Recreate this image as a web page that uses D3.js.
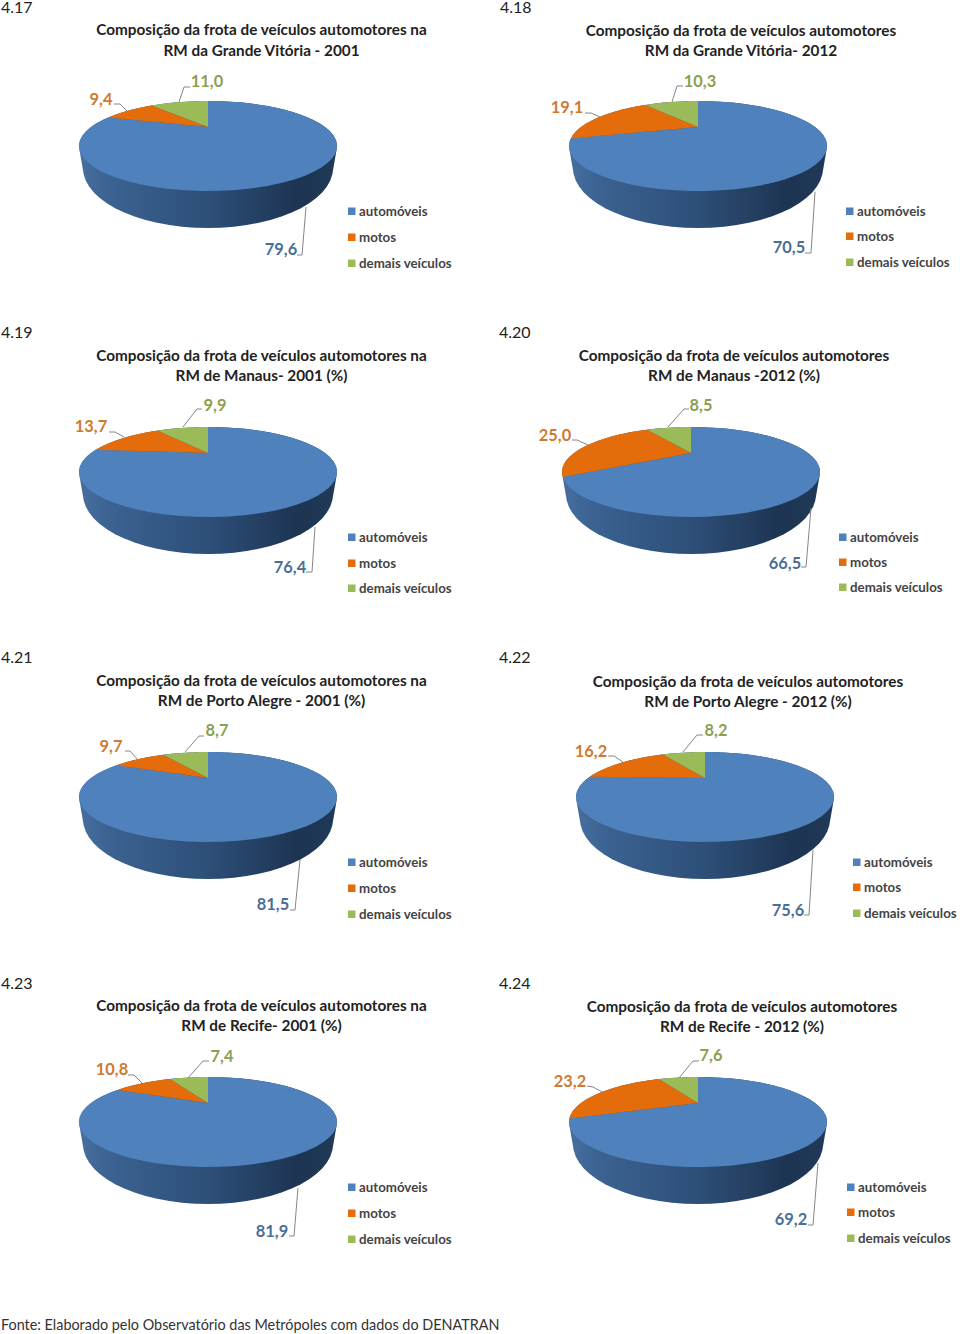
<!DOCTYPE html>
<html lang="pt"><head><meta charset="utf-8">
<script src="https://cdn.jsdelivr.net/npm/d3@7"></script>
<style>
html,body{margin:0;padding:0;background:#fff}
text{font-family:Lato,"Open Sans",sans-serif}
</style></head><body><svg id="c" width="960" height="1334"></svg>
<script>
// ---------- data ----------
const categories = ["automóveis","motos","demais veículos"];
const figureIds = ["4.17","4.18","4.19","4.20","4.21","4.22","4.23","4.24"];
const titlesLine1 = [
 "Composição da frota de veículos automotores na","Composição da frota de veículos automotores",
 "Composição da frota de veículos automotores na","Composição da frota de veículos automotores",
 "Composição da frota de veículos automotores na","Composição da frota de veículos automotores",
 "Composição da frota de veículos automotores na","Composição da frota de veículos automotores"];
const titlesLine2 = [
 "RM da Grande Vitória - 2001","RM da Grande Vitória- 2012",
 "RM de Manaus- 2001 (%)","RM de Manaus -2012 (%)",
 "RM de Porto Alegre - 2001 (%)","RM de Porto Alegre - 2012 (%)",
 "RM de Recife- 2001 (%)","RM de Recife - 2012 (%)"];
const automoveis = [79.6,70.5,76.4,66.5,81.5,75.6,81.9,69.2];
const motos      = [ 9.4,19.1,13.7,25.0, 9.7,16.2,10.8,23.2];
const demais     = [11.0,10.3, 9.9, 8.5, 8.7, 8.2, 7.4, 7.6];
const sourceNote = "Fonte: Elaborado pelo Observatório das Metrópoles com dados do DENATRAN";

// ---------- layout ----------
const colors = ["#4f81bd","#e46c0a","#9bbb59"];
const labelColors = ["#4a6f97","#cf7a30","#8a9f52"];
const pieCenter = [[208,127],[698,127],[208,453],[691,453],[208,778],[705,778],[208,1103],[698,1103]];
const titlePos = [[261.5,29,50],[741,30,50],[261.5,355,375],[734,355,375],[261.5,680,700],[748,681,701],[261.5,1005,1025],[742,1006,1026]];
const idPos = [[1,7],[500,7],[1,332],[499,332],[1,657],[499,657],[1,983],[499,983]];
const legendPos = [[348,211,237,263],[846,211,236,262],[348,537,563,588],[839,537,562,587],[348,862,888,914],[853,862,887,913],[348,1187,1213,1239],[847,1187,1212,1238]];
// label centre + leader polyline, in order automóveis, motos, demais
const labelLayout = [
 [[[281,249],[[306,207],[302,255],[297,255]]],[[101,99],[[114,104],[120,104],[128,112]]],[[207,81],[[179,102],[184,87],[190,87]]]],
 [[[789,247],[[815,192],[811,253],[805,253]]],[[567,107],[[585,113],[591,113],[600,117]]],[[700,81],[[672,102],[677,86],[683,86]]]],
 [[[290,567],[[315,527],[312,572],[306,572]]],[[91,426],[[109,432],[115,432],[124,437]]],[[215,405],[[183,427],[197,409],[202,409]]]],
 [[[785,563],[[811,508],[806,567],[801,567]]],[[555,435],[[572,440],[577,440],[588,445]]],[[701,405],[[668,427],[684,409],[689,409]]]],
 [[[273,904],[[300,860],[295,910],[290,910]]],[[111,746],[[125,751],[130,751],[138,760]]],[[217,730],[[185,752],[199,736],[204,736]]]],
 [[[788,910],[[813,850],[809,915],[804,915]]],[[591,751],[[608,756],[614,756],[623,762]]],[[716,730],[[683,752],[697,735],[703,735]]]],
 [[[272,1231],[[298,1188],[294,1236],[289,1236]]],[[112,1069],[[128,1075],[134,1075],[143,1084]]],[[222,1056],[[188,1078],[203,1061],[209,1061]]]],
 [[[791,1219],[[818,1163],[813,1225],[808,1225]]],[[570,1081],[[587,1086],[593,1087],[604,1093]]],[[711,1055],[[679,1078],[693,1061],[699,1061]]]]
];
// perspective disc: circle (u,v) -> (R u/w, S v/w), w = 1 - k v
const R=117,S=37,K=0.422;
const project=a=>{const u=Math.sin(a),v=-Math.cos(a),w=1-K*v;return [R*u/w,S*v/w];};
const base={dy:41,rx:125,ry:60};

const svg=d3.select("#c");
const defs=svg.append("defs");
const grad=defs.append("linearGradient").attr("id","side").attr("x1",0).attr("x2",1).attr("y1",0).attr("y2",0);
[[0,"#466f9f"],[0.12,"#3b6291"],[0.5,"#2d4f78"],[0.85,"#1d3452"],[1,"#1f3a58"]].forEach(s=>grad.append("stop").attr("offset",s[0]).attr("stop-color",s[1]));

const pie=d3.pie().sort(null).value(d=>d);
const line=d3.line();
const arcSamples=(a0,a1)=>d3.range(0,61).map(d3.scaleLinear([0,60],[a0,a1]));

figureIds.forEach((id,i)=>{
  const [cx,cy]=pieCenter[i];
  const g=svg.append("g");
  g.append("text").attr("x",idPos[i][0]).attr("y",idPos[i][1]).attr("dy","0.36em")
    .attr("font-size",16).attr("fill","#222").text(id);
  const tg=g.append("g").attr("text-anchor","middle").attr("font-weight",700).attr("font-size",15.3).attr("fill","#222");
  tg.append("text").attr("x",titlePos[i][0]).attr("y",titlePos[i][1]).attr("dy","0.36em").text(titlesLine1[i]);
  tg.append("text").attr("x",titlePos[i][0]).attr("y",titlePos[i][2]).attr("dy","0.36em").text(titlesLine2[i]);

  const disc=g.append("g").attr("transform",`translate(${cx},${cy})`);
  const top=arcSamples(0,2*Math.PI).map(project);
  const bottom=arcSamples(0,2*Math.PI).map(a=>[base.rx*Math.sin(a),base.dy-base.ry*Math.cos(a)]);
  disc.append("path").attr("d",line.curve(d3.curveLinearClosed)(d3.polygonHull(top.concat(bottom)))).attr("fill","url(#side)");
  line.curve(d3.curveLinear);
  const vals=[automoveis[i],motos[i],demais[i]];
  const arcs=pie(vals);
  disc.selectAll("path.s").data(arcs).join("path").attr("class","s")
    .attr("fill",(d,j)=>colors[j])
    .attr("d",d=>line([[0,0],...arcSamples(d.startAngle,d.endAngle).map(project)])+"Z");

  vals.forEach((v,j)=>{
    const [[lx,ly],pts]=labelLayout[i][j];
    g.append("path").attr("d",line(pts)).attr("fill","none").attr("stroke","#868686").attr("stroke-width",1);
    g.append("text").attr("x",lx).attr("y",ly).attr("dy","0.36em").attr("text-anchor","middle")
      .attr("font-size",16.4).attr("font-weight",700).attr("fill",labelColors[j])
      .text(d3.format(".1f")(v).replace(".",","));
  });
  categories.forEach((c,j)=>{
    const lg=legendPos[i];
    g.append("rect").attr("x",lg[0]).attr("y",lg[j+1]-3.5).attr("width",7.5).attr("height",7.5).attr("fill",colors[j]);
    g.append("text").attr("x",lg[0]+11).attr("y",lg[j+1]).attr("dy","0.36em")
      .attr("font-size",13.3).attr("font-weight",700).attr("fill","#444").text(c);
  });
});
svg.append("text").attr("x",1).attr("y",1325).attr("dy","0.36em").attr("font-size",14.4).attr("fill","#333").text(sourceNote);
</script></body></html>
